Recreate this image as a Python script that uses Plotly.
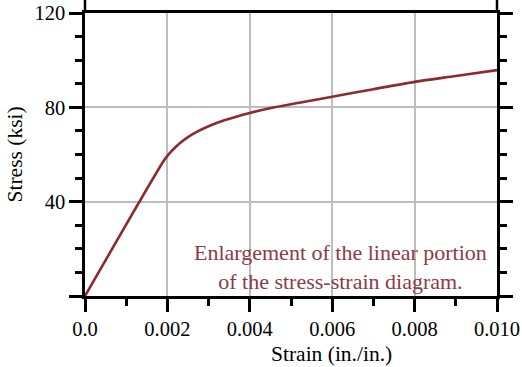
import plotly.graph_objects as go

# Data
strain = [0.0, 0.0019, 0.002, 0.0021, 0.0022, 0.0023, 0.0025, 0.0027,
          0.003, 0.0034, 0.004, 0.0046, 0.0053, 0.006, 0.007, 0.008,
          0.009, 0.010]
stress = [0.0, 57.0, 59.4, 61.4, 63.2, 64.8, 67.4, 69.5,
          72.0, 74.6, 77.6, 80.0, 82.3, 84.5, 87.7, 90.8,
          93.3, 95.8]

x_tickvals = [0.0, 0.002, 0.004, 0.006, 0.008, 0.010]
x_ticktext = ["0.0", "0.002", "0.004", "0.006", "0.008", "0.010"]
y_tickvals = [0, 40, 80, 120]
y_ticktext = ["", "40", "80", "120"]

FONT = "Liberation Serif, Times New Roman, serif"
LINE_COLOR = "#8b2b2e"
TEXT_COLOR = "#8d3a48"

fig = go.Figure()
fig.add_trace(go.Scatter(
    x=strain, y=stress, mode="lines",
    line=dict(color=LINE_COLOR, width=2.6, shape="spline", smoothing=0.8),
    hoverinfo="skip", showlegend=False,
))

axis_common = dict(
    showline=True, linecolor="black", linewidth=2.5,
    ticks="outside", ticklen=13, tickwidth=2.5, tickcolor="black",
    showgrid=True, gridcolor="#bdbdbd", gridwidth=1.5,
    zeroline=False,
    tickfont=dict(family=FONT, size=20.5, color="black"),
)

fig.update_xaxes(
    **axis_common,
    range=[0, 0.010], tickmode="array",
    tickvals=x_tickvals, ticktext=x_ticktext,
    mirror=True,
    minor=dict(tickmode="linear", tick0=0, dtick=0.001, ticks="outside",
               ticklen=7, tickwidth=2.5, tickcolor="black", showgrid=False),
)
fig.update_yaxes(
    **axis_common,
    range=[0, 120], tickmode="array",
    tickvals=y_tickvals, ticktext=y_ticktext,
    mirror="ticks",
    minor=dict(tickmode="linear", tick0=0, dtick=10, ticks="outside",
               ticklen=7, tickwidth=2.5, tickcolor="black", showgrid=False),
)

# axis lines extending above the top frame
plot_h = 367 - 13 - 71
ext = 13 / plot_h
for xp in (0, 1):
    fig.add_shape(type="line", xref="paper", yref="paper",
                  x0=xp, x1=xp, y0=1, y1=1 + ext,
                  line=dict(color="black", width=2.5))

# Axis titles
fig.add_annotation(
    text="Strain (in./in.)", xref="paper", yref="paper",
    x=(331.5 - 85) / (497 - 85), y=-(354 - 296) / plot_h,
    xanchor="center", yanchor="middle", showarrow=False,
    font=dict(family=FONT, size=21.5, color="black"),
)
fig.add_annotation(
    text="Stress (ksi)", xref="paper", yref="paper",
    x=-(85 - 14) / (497 - 85), y=0.5, textangle=-90,
    xanchor="center", yanchor="middle", showarrow=False,
    font=dict(family=FONT, size=21.5, color="black"),
)

# In-plot note
fig.add_annotation(
    text="Enlargement of the linear portion<br>of the stress-strain diagram.",
    x=0.00621, y=12.1, xref="x", yref="y",
    xanchor="center", yanchor="middle", align="center", showarrow=False,
    font=dict(family=FONT, size=22, color=TEXT_COLOR),
)

fig.update_layout(
    width=522, height=367,
    margin=dict(l=85, r=25, t=13, b=71, autoexpand=False),
    paper_bgcolor="white", plot_bgcolor="white",
)

fig.write_html("out.html", config={"displayModeBar": False},
               post_script="document.body.style.margin='0px';document.body.style.overflow='hidden';")
